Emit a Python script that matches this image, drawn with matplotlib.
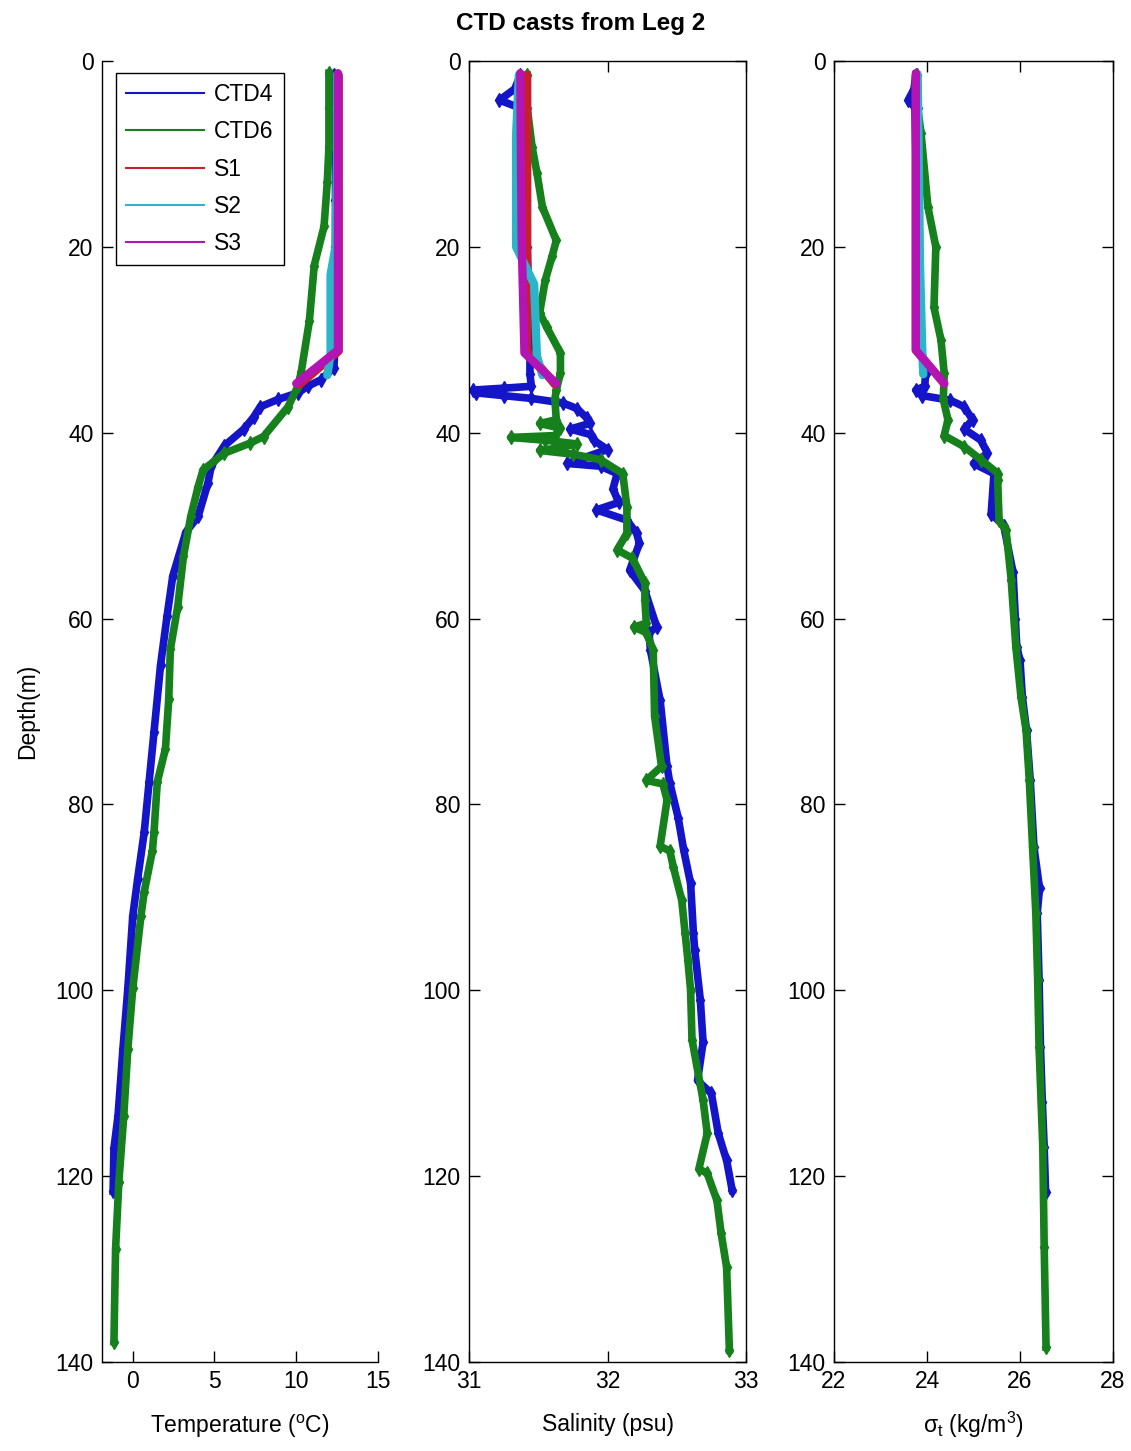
import matplotlib.pyplot as plt
from matplotlib.lines import Line2D

plt.rcParams['font.family'] = ['Liberation Sans', 'DejaVu Sans']
plt.rcParams['mathtext.default'] = 'regular'

# CTD4 / CTD6 casts, temperature (deg C) vs depth (m)
ctd4_t_depth = [1.5, 4, 10, 15, 20, 25, 30, 33, 34.3, 35.0, 35.7, 36.4, 37.2, 38.3,
                39.6, 41.4, 43.6, 45.4, 49, 50.7, 55.4, 59.7, 65, 72.2, 77.6, 83, 88,
                92, 99.8, 106.3, 113.5, 117, 121.6]
ctd4_temp = [12.3, 12.4, 12.4, 12.4, 12.4, 12.4, 12.4, 12.3, 11.5, 10.7, 10.1, 8.9, 7.8, 7.4,
             6.8, 5.6, 4.8, 4.6, 4.0, 3.25, 2.45, 2.1, 1.7, 1.3, 1.0, 0.7, 0.3,
             0.0, -0.3, -0.6, -0.9, -1.15, -1.2]

ctd6_t_depth = [1.3, 5, 9.2, 13, 17.8, 22, 28, 33.5, 35, 37.2, 40.4, 41.1, 42.2, 44, 45.8,
                49, 53.3, 58.7, 63.3, 68.7, 74, 77.6, 83, 85, 89.4, 92, 99.8, 106.3,
                113.5, 120.6, 127.8, 137.8]
ctd6_temp = [12.0, 12.0, 12.0, 11.9, 11.7, 11.1, 10.8, 10.3, 10.1, 9.5, 8.0, 7.2, 5.6, 4.3, 4.0,
             3.55, 3.1, 2.75, 2.3, 2.2, 2.0, 1.5, 1.3, 1.2, 0.7, 0.5, 0.0, -0.3,
             -0.55, -0.85, -1.05, -1.15]

# bottle stations S1-S3
s1_t_depth = [1.5, 10, 20, 31.2, 34.8]
s1_temp = [12.6, 12.6, 12.6, 12.6, 10.2]
s2_t_depth = [1.5, 10, 20, 23, 31.5, 33.8]
s2_temp = [12.5, 12.5, 12.4, 12.1, 12.1, 11.9]
s3_t_depth = [1.3, 10, 20, 31.1, 34.7]
s3_temp = [12.55, 12.55, 12.55, 12.55, 10.0]

# salinity (psu)
ctd4_s_depth = [1.5, 3.0, 4.2, 5.0, 10, 15, 20, 25, 30, 33.7, 35.0, 35.2, 35.4, 35.7, 36.0,
                36.3, 36.8, 37.4, 38.4, 39.0, 39.6, 40.2, 40.8, 41.8, 43.3, 43.6, 44.4, 46.0,
                47.5, 48.3, 49.4, 50.8, 51.9, 54.8, 57.0, 60.9, 61.5, 63.4, 68.8, 75.9,
                77.7, 81.4, 84.9, 88.5, 93.8, 95.7, 101, 105.6, 109.7, 111.1, 115.4, 118.3,
                121.5]
ctd4_sal = [31.37, 31.33, 31.22, 31.36, 31.40, 31.41, 31.42, 31.43, 31.44, 31.44, 31.45, 31.25,
            31.03, 31.05, 31.25, 31.45, 31.68, 31.78, 31.85, 31.87, 31.73, 31.88, 31.90, 32.00,
            31.71, 31.95, 32.07, 32.04, 32.08, 31.92, 32.14, 32.21, 32.23, 32.16, 32.27, 32.355,
            32.30, 32.31, 32.38, 32.43, 32.45, 32.51, 32.55, 32.60, 32.62, 32.63, 32.67, 32.69,
            32.65, 32.75, 32.80, 32.86, 32.90]

ctd6_s_depth = [1.5, 5, 9.2, 12, 15.7, 19.3, 21, 23.6, 27.1, 28.6, 31.4, 33.6, 35.4, 36.4,
                38.6, 39.0, 39.5, 40.3, 40.5, 40.8, 41.2, 41.6, 41.9, 42.3, 42.9, 44.4, 48,
                50.8, 52.6, 53.5, 56.2, 58, 60.5, 60.9, 61.5, 63.4, 70.5, 75.9, 77.4, 77.8,
                79.5, 84.5, 85.0, 86.7, 90.3, 93.8, 96.7, 100, 105.3, 111.8, 115.4, 119.2,
                119.7, 122.6, 126.1, 129.8, 138.7]
ctd6_sal = [31.42, 31.42, 31.455, 31.49, 31.53, 31.63, 31.60, 31.55, 31.51, 31.56, 31.66, 31.66,
            31.63, 31.62, 31.63, 31.51, 31.66, 31.62, 31.30, 31.55, 31.78, 31.66, 31.51, 31.75,
            31.95, 32.11, 32.14, 32.14, 32.07, 32.18, 32.27, 32.27, 32.28, 32.19, 32.28, 32.33,
            32.34, 32.39, 32.28, 32.40, 32.43, 32.38, 32.45, 32.475, 32.536, 32.56, 32.58,
            32.60, 32.61, 32.69, 32.72, 32.66, 32.72, 32.79, 32.82, 32.86, 32.88]

s1_s_depth = [1.5, 31.2, 34.8]
s1_sal = [31.42, 31.42, 31.62]
s2_s_depth = [1.5, 8, 20, 24, 31.7, 33.8]
s2_sal = [31.36, 31.34, 31.34, 31.47, 31.49, 31.53]
s3_s_depth = [1.3, 19.3, 31.4, 34.7]
s3_sal = [31.37, 31.38, 31.40, 31.63]

# density anomaly sigma-t (kg/m^3)
ctd4_d_depth = [1.5, 3, 4.2, 5, 10, 20, 30, 33.7, 35.0, 35.4, 36.0, 36.5, 37.2, 38.6, 39.6,
                40.8, 42.2, 43.3, 44.4, 48.7, 50, 55, 60, 63, 64.5, 68.4, 72, 77.4, 84.6,
                89, 91.7, 98.9, 106.1, 112, 116.9, 121.7]
ctd4_sigma = [23.76, 23.72, 23.60, 23.74, 23.76, 23.80, 23.85, 23.97, 23.95, 23.76, 23.90, 24.50,
              24.80, 24.98, 24.80, 25.16, 25.30, 25.00, 25.44, 25.38, 25.65, 25.85, 25.90,
              25.93, 26.00, 26.05, 26.14, 26.22, 26.30, 26.42, 26.37, 26.41, 26.44, 26.48,
              26.52, 26.55]

ctd6_d_depth = [1.5, 5, 7.7, 15.7, 20, 26.5, 30, 33.6, 36.4, 38.6, 40.3, 41.5, 42.9, 44.4,
                45.1, 49.4, 50.5, 55.8, 63, 68.4, 72, 77.4, 84.6, 91.7, 98.9, 106.1, 116.9,
                127.6, 138.4]
ctd6_sigma = [23.78, 23.80, 23.87, 24.02, 24.19, 24.15, 24.30, 24.37, 24.35, 24.45, 24.37, 24.80,
              25.16, 25.53, 25.52, 25.55, 25.70, 25.81, 25.91, 26.02, 26.13, 26.20, 26.27,
              26.34, 26.38, 26.41, 26.49, 26.52, 26.56]

s1_d_depth = [1.5, 31.1, 34.7]
s1_sigma = [23.76, 23.76, 24.37]
s2_d_depth = [1.5, 22, 31.5, 33.7]
s2_sigma = [23.80, 23.85, 23.90, 23.92]
s3_d_depth = [1.3, 10, 20, 31.1, 34.7]
s3_sigma = [23.76, 23.76, 23.76, 23.76, 24.37]

names = ['CTD4', 'CTD6', 'S1', 'S2', 'S3']
colors = ['#1414c8', '#16801c', '#c81e2a', '#2cb4c8', '#b414b4']

fig = plt.figure(figsize=(11.31, 14.51), dpi=100)
ax1 = fig.add_axes([0.0902, 0.0613, 0.244, 0.8966])
ax2 = fig.add_axes([0.4147, 0.0613, 0.2449, 0.8966])
ax3 = fig.add_axes([0.7374, 0.0613, 0.2467, 0.8966])

panels = [
    (ax1, [(ctd4_temp, ctd4_t_depth), (ctd6_temp, ctd6_t_depth), (s1_temp, s1_t_depth),
           (s2_temp, s2_t_depth), (s3_temp, s3_t_depth)]),
    (ax2, [(ctd4_sal, ctd4_s_depth), (ctd6_sal, ctd6_s_depth), (s1_sal, s1_s_depth),
           (s2_sal, s2_s_depth), (s3_sal, s3_s_depth)]),
    (ax3, [(ctd4_sigma, ctd4_d_depth), (ctd6_sigma, ctd6_d_depth), (s1_sigma, s1_d_depth),
           (s2_sigma, s2_d_depth), (s3_sigma, s3_d_depth)]),
]

for ax, series in panels:
    for i, (x, z) in enumerate(series):
        if i < 2:
            ax.plot(x, z, color=colors[i], lw=5.5, marker='d', ms=7, mec=colors[i],
                    solid_joinstyle='round')
        else:
            ax.plot(x, z, color=colors[i], lw=6, solid_capstyle='round')
    ax.set_ylim(140, 0)
    ax.set_yticks(range(0, 141, 20))
    ax.tick_params(direction='in', length=8, width=1, labelsize=16.5, pad=6,
                   top=True, right=True)
    for sp in ax.spines.values():
        sp.set_linewidth(1.0)

ax1.set_xlim(-1.88, 15)
ax1.set_xticks([0, 5, 10, 15])
ax1.spines['top'].set_visible(False)
ax1.spines['right'].set_visible(False)
ax1.tick_params(top=False, right=False)
ax1.set_xlabel('Temperature ($^o$C)', fontsize=16.5, labelpad=14)
ax1.set_ylabel('Depth(m)', fontsize=16.5, labelpad=12)

ax2.set_xlim(31, 33)
ax2.set_xticks([31, 32, 33])
ax2.set_xlabel('Salinity (psu)', fontsize=16.5, labelpad=14)

ax3.set_xlim(22, 28)
ax3.set_xticks([22, 24, 26, 28])
ax3.set_xlabel('$\\sigma_t$ (kg/m$^3$)', fontsize=16.5, labelpad=12)

handles = [Line2D([0], [0], color=c, lw=1.5) for c in colors]
leg = ax1.legend(handles, names, loc='upper left', bbox_to_anchor=(0.05, 0.991),
                 fontsize=16.5, handlelength=3.4, labelspacing=0.62, fancybox=False,
                 framealpha=1, edgecolor='black', borderpad=0.45, handletextpad=0.45,
                 borderaxespad=0)
leg.get_frame().set_linewidth(1.0)

fig.text(0.513, 0.984, 'CTD casts from Leg 2', ha='center', va='center',
         fontsize=17.5, fontweight='bold')

fig.savefig('out.png', dpi=100)
